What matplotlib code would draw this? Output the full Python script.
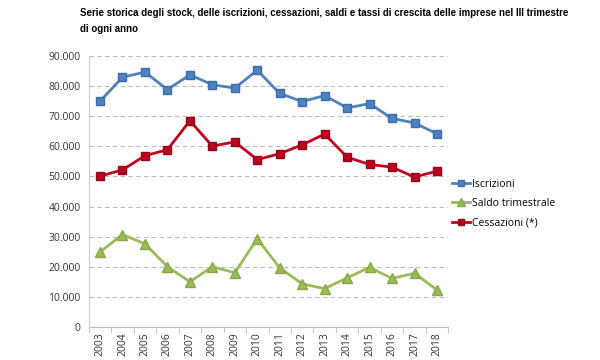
import matplotlib
matplotlib.use("Agg")
import matplotlib.pyplot as plt
from matplotlib.ticker import FuncFormatter, FixedLocator

plt.rcParams['font.family'] = ['Open Sans', 'DejaVu Sans']

anni = [str(a) for a in range(2003, 2019)]
iscrizioni = [75000, 83000, 84700, 78900, 83800, 80500, 79400, 85300,
              77600, 74900, 76900, 72800, 74200, 69300, 67800, 64200]
cessazioni = [50100, 52200, 56900, 58900, 68500, 60100, 61500, 55600,
              57600, 60500, 64100, 56400, 54000, 53100, 49800, 51800]
saldo = [24900, 30700, 27600, 20000, 15000, 20000, 18000, 29300,
         19600, 14300, 12700, 16300, 19800, 16100, 17800, 12300]

titolo = ("Serie storica degli stock, delle iscrizioni, cessazioni, saldi e tassi di crescita delle imprese nel III trimestre\n"
          "di ogni anno")

fig = plt.figure(figsize=(6, 3.6), dpi=100)
ax = fig.add_axes([0.148, 0.092, 0.599, 0.752])

x = list(range(len(anni)))
l1, = ax.plot(x, iscrizioni, color='#4F81BD', lw=2, marker='s', ms=6,
              mfc='#4F81BD', mec='#3A6DAA', label='Iscrizioni')
l2, = ax.plot(x, saldo, color='#9BBB59', lw=2, marker='^', ms=7,
              mfc='#9BBB59', mec='#86A845', label='Saldo trimestrale')
l3, = ax.plot(x, cessazioni, color='#C00020', lw=2, marker='s', ms=6,
              mfc='#C00020', mec='#8E0A1A', label='Cessazioni (*)')

ax.set_xlim(-0.5, len(anni) - 0.5)
ax.set_ylim(0, 90000)
ax.set_yticks(range(0, 90001, 10000))
ax.yaxis.set_major_formatter(FuncFormatter(lambda v, p: f"{int(v):,}".replace(",", ".")))
ax.set_xticks(x)
ax.set_xticklabels(anni, rotation=90, fontsize=7.5, color='#333333')
ax.xaxis.set_minor_locator(FixedLocator([i - 0.5 for i in range(len(anni) + 1)]))
ax.tick_params(axis='x', which='major', length=0, pad=4)
ax.tick_params(axis='x', which='minor', length=4, color='#BBBBBB')
ax.tick_params(axis='y', length=0, labelsize=7.5, labelcolor='#333333', pad=6)

ax.grid(axis='y', color='#BBBBBB', ls=(0, (4, 3)), lw=0.8)
ax.set_axisbelow(True)
for s in ['top', 'right']:
    ax.spines[s].set_visible(False)
ax.spines['left'].set_color('#CCCCCC')
ax.spines['bottom'].set_color('#BBBBBB')

fig.legend(handles=[l1, l2, l3], loc='upper left', bbox_to_anchor=(0.737, 0.53),
           frameon=False, fontsize=7.5, handlelength=1.8, handletextpad=0.2,
           labelspacing=0.8, markerscale=0.8)

fig.text(0.133, 0.978, titolo, ha='left', va='top', fontsize=7,
         fontweight='bold', family=['Liberation Sans', 'DejaVu Sans'], linespacing=1.75)

fig.savefig('out.png', dpi=100)
